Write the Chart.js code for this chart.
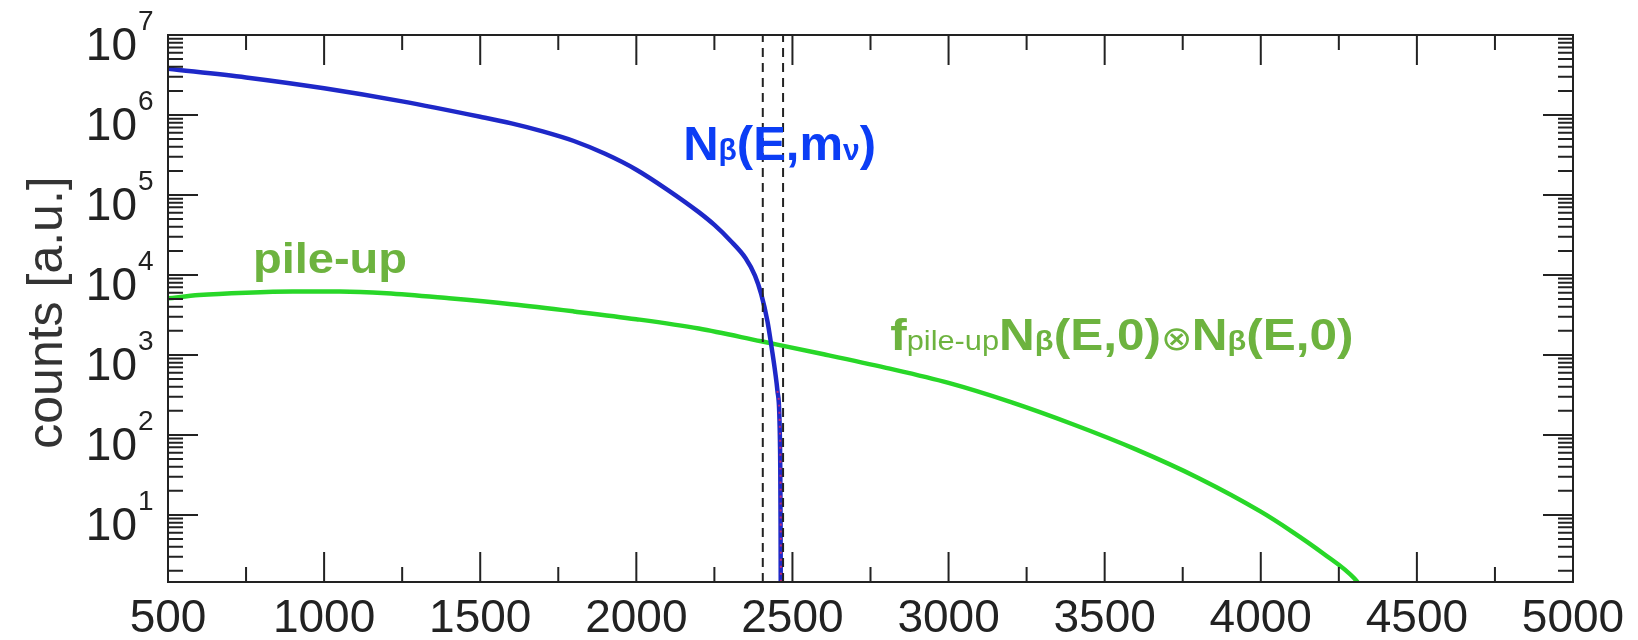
<!DOCTYPE html>
<html>
<head>
<meta charset="utf-8">
<script src="https://cdn.jsdelivr.net/npm/chart.js@4.4.1/dist/chart.umd.min.js"></script>
<style>
  html, body { margin: 0; padding: 0; background: #fff; }
  #wrap { width: 1638px; height: 640px; position: relative; }
</style>
</head>
<body>
<div id="wrap"><canvas id="spectrum"></canvas></div>
<script>
// beta spectrum near the endpoint, energies in eV
const betaEnergy = [500, 750, 1000, 1250, 1500, 1600, 1700, 1800, 1900, 2000, 2100, 2200, 2250, 2300, 2350, 2380, 2400, 2420, 2435, 2445, 2452, 2458, 2461, 2462, 2463];
const betaCounts = [3.8e6, 2.95e6, 2.16e6, 1.48e6, 9.5e5, 7.85e5, 6.24e5, 4.73e5, 3.27e5, 2.07e5, 1.16e5, 6.1e4, 4.22e4, 2.72e4, 1.62e4, 9.8e3, 5.75e3, 2.63e3, 1.12e3, 600, 355, 178, 40, 8, 0.3];

// massless spectrum, only visible right at the endpoint
const zeroMassEnergy = [2452, 2459, 2462.5, 2463.5];
const zeroMassCounts = [355, 155, 10, 0.3];

// pile-up spectrum
const pileupEnergy = [500, 600, 750, 900, 1050, 1200, 1400, 1600, 1800, 2000, 2200, 2400, 2600, 2800, 3000, 3200, 3400, 3600, 3800, 4000, 4100, 4200, 4300, 4380];
const pileupCounts = [5.1e3, 5.6e3, 6.0e3, 6.2e3, 6.2e3, 5.9e3, 5.1e3, 4.3e3, 3.5e3, 2.8e3, 2.14e3, 1.48e3, 1.02e3, 690, 447, 257, 135, 66, 29, 11, 6.2, 3.3, 1.6, 0.6];

// dashed markers around the endpoint
const markerEnergy = [2405, 2470];

const xTickValues = [500, 1000, 1500, 2000, 2500, 3000, 3500, 4000, 4500, 5000];
const yDecades = [1, 2, 3, 4, 5, 6, 7];
const yMin = 1.45, yMax = 1e7;

const FONT = "'Liberation Sans', Arial, Helvetica, sans-serif";
const BLUE_TEXT = '#0b3df5';
const GREEN_TEXT = '#6db33f';

function points(xs, ys) {
    return xs.map((x, i) => ({x: x, y: ys[i]}));
}

// run of text pieces with mixed fonts on a common baseline
function drawRuns(ctx, runs, px, py, sx, color) {
    ctx.save();
    ctx.translate(px, py);
    ctx.scale(sx, 1);
    ctx.fillStyle = color;
    ctx.textAlign = 'left';
    ctx.textBaseline = 'alphabetic';
    let cx = 0;
    runs.forEach(r => {
        ctx.font = r.font;
        ctx.fillText(r.t, cx, 0);
        cx += ctx.measureText(r.t).width;
    });
    ctx.restore();
}

const frame = {
    id: 'frame',
    afterDraw(chart) {
        const {ctx, chartArea: a, scales: {x, y}} = chart;
        ctx.save();
        ctx.strokeStyle = '#222';
        ctx.lineWidth = 2;
        ctx.strokeRect(a.left, a.top, a.right - a.left, a.bottom - a.top);

        // x ticks, inward on bottom and top
        ctx.beginPath();
        for (let i = 0; i < xTickValues.length; i++) {
            const v = xTickValues[i];
            const px = x.getPixelForValue(v);
            ctx.moveTo(px, a.bottom); ctx.lineTo(px, a.bottom - 30);
            ctx.moveTo(px, a.top); ctx.lineTo(px, a.top + 30);
            if (i < xTickValues.length - 1) {
                const m = x.getPixelForValue((v + xTickValues[i + 1]) / 2);
                ctx.moveTo(m, a.bottom); ctx.lineTo(m, a.bottom - 15);
                ctx.moveTo(m, a.top); ctx.lineTo(m, a.top + 15);
            }
        }
        // y ticks, inward on left and right
        for (let n = 0; n <= 7; n++) {
            for (let k = 1; k <= 9; k++) {
                const v = k * Math.pow(10, n);
                if (v < yMin || v > yMax) continue;
                const py = y.getPixelForValue(v);
                const len = k === 1 ? 30 : 15;
                ctx.moveTo(a.left, py); ctx.lineTo(a.left + len, py);
                ctx.moveTo(a.right, py); ctx.lineTo(a.right - len, py);
            }
        }
        ctx.stroke();

        // decade labels 10^n
        ctx.fillStyle = '#222';
        yDecades.forEach(n => {
            const py = y.getPixelForValue(Math.pow(10, n));
            ctx.font = '46px ' + FONT;
            ctx.textAlign = 'right';
            ctx.textBaseline = 'middle';
            ctx.fillText('10', a.left - 31, py + 12);
            ctx.font = '28px ' + FONT;
            ctx.textAlign = 'left';
            ctx.fillText(String(n), a.left - 30, py - 13);
        });

        // axis title
        ctx.save();
        ctx.translate(62, (a.top + a.bottom) / 2 + 4);
        ctx.rotate(-Math.PI / 2);
        ctx.font = '50px ' + FONT;
        ctx.fillStyle = '#333';
        ctx.textAlign = 'center';
        ctx.textBaseline = 'alphabetic';
        ctx.fillText('counts [a.u.]', 0, 0);
        ctx.restore();

        // curve labels
        const B = n => 'bold ' + n + 'px ' + FONT;
        const R = n => n + 'px ' + FONT;
        drawRuns(ctx, [
            {t: 'N', font: B(49)}, {t: 'β', font: B(30)}, {t: '(E,m', font: B(49)},
            {t: 'ν', font: B(30)}, {t: ')', font: B(49)}
        ], x.getPixelForValue(2150), y.getPixelForValue(2.74e5), 1, BLUE_TEXT);

        drawRuns(ctx, [{t: 'pile-up', font: B(42)}],
            x.getPixelForValue(772), y.getPixelForValue(1.06e4), 1.12, GREEN_TEXT);

        drawRuns(ctx, [
            {t: 'f', font: B(45)}, {t: 'pile-up', font: R(28)},
            {t: 'N', font: B(45)}, {t: 'β', font: B(28)}, {t: '(E,0)', font: B(45)},
            {t: '⊗', font: R(34)},
            {t: 'N', font: B(45)}, {t: 'β', font: B(28)}, {t: '(E,0)', font: B(45)}
        ], x.getPixelForValue(2813), y.getPixelForValue(1155), 1.1, GREEN_TEXT);

        ctx.restore();
    }
};

const datasets = [
    {
        label: 'pile-up',
        data: points(pileupEnergy, pileupCounts),
        borderColor: 'rgb(40,215,40)',
        borderWidth: 4.5,
        order: 3
    },
    {
        label: 'N(E,m)',
        data: points(betaEnergy, betaCounts),
        borderColor: 'rgb(30,40,200)',
        borderWidth: 4.5,
        order: 2
    },
    {
        label: 'N(E,0)',
        data: points(zeroMassEnergy, zeroMassCounts),
        borderColor: 'rgba(230,40,100,0.8)',
        borderWidth: 2,
        borderDash: [2, 5],
        order: 1
    }
];
markerEnergy.forEach(e => {
    datasets.push({
        label: 'marker',
        data: [{x: e, y: yMin}, {x: e, y: yMax}],
        borderColor: '#222',
        borderWidth: 2,
        borderDash: [9, 6],
        cubicInterpolationMode: 'default',
        tension: 0,
        order: 0
    });
});

new Chart(document.getElementById('spectrum').getContext('2d'), {
    type: 'line',
    data: {datasets: datasets},
    options: {
        responsive: true,
        maintainAspectRatio: false,
        animation: false,
        devicePixelRatio: 1,
        layout: {padding: {top: 35, right: 65, left: 0, bottom: 0}},
        elements: {
            point: {radius: 0},
            line: {cubicInterpolationMode: 'monotone', fill: false}
        },
        plugins: {
            legend: {display: false},
            tooltip: {enabled: false}
        },
        scales: {
            x: {
                type: 'linear',
                min: 500,
                max: 5000,
                afterBuildTicks: s => { s.ticks = xTickValues.map(v => ({value: v})); },
                afterFit: s => { s.height = 58; },
                grid: {display: false, drawTicks: false},
                border: {display: false},
                ticks: {
                    autoSkip: false,
                    maxRotation: 0,
                    padding: 10,
                    color: '#222',
                    font: {family: FONT, size: 46},
                    callback: v => String(v)
                }
            },
            y: {
                type: 'logarithmic',
                min: yMin,
                max: yMax,
                afterFit: s => { s.width = 168; },
                grid: {display: false, drawTicks: false},
                border: {display: false},
                ticks: {display: false}
            }
        }
    },
    plugins: [frame]
});
</script>
</body>
</html>
